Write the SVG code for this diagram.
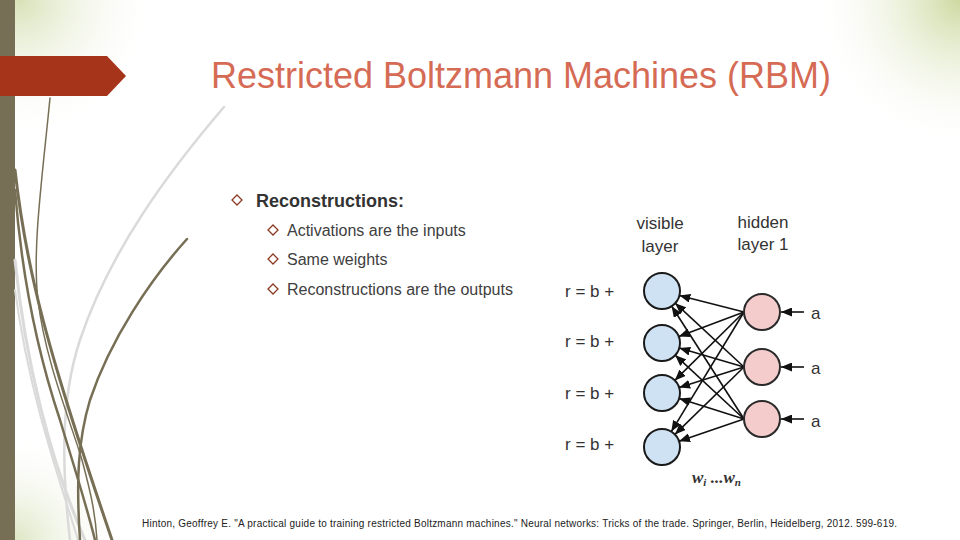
<svg xmlns="http://www.w3.org/2000/svg" width="960" height="540" viewBox="0 0 960 540">
<defs>
<radialGradient id="gTL" cx="20" cy="0" r="140" gradientUnits="userSpaceOnUse">
<stop offset="0" stop-color="#D8E2B8" stop-opacity="1"/>
<stop offset="1" stop-color="#FFFFFF" stop-opacity="0"/>
</radialGradient>
<radialGradient id="gTR" cx="960" cy="0" r="150" gradientUnits="userSpaceOnUse">
<stop offset="0" stop-color="#CCD9A0" stop-opacity="1"/>
<stop offset="1" stop-color="#FFFFFF" stop-opacity="0"/>
</radialGradient>
<radialGradient id="gBL" cx="15" cy="540" r="110" gradientUnits="userSpaceOnUse">
<stop offset="0" stop-color="#DDE6C4" stop-opacity="1"/>
<stop offset="1" stop-color="#FFFFFF" stop-opacity="0"/>
</radialGradient>
<marker id="ah" markerWidth="11" markerHeight="9" refX="11" refY="4.5" orient="auto" markerUnits="userSpaceOnUse">
<path d="M0,0 L11,4.5 L0,9 Z" fill="#111"/>
</marker>
<style>
.olive{fill:none;stroke:#776F55;stroke-linecap:round}
.grey{fill:none;stroke:#DADADA;stroke-linecap:round}
.bul{fill:none;stroke:#8A3A22;stroke-width:1.3}
.t1{font-family:"Liberation Sans",Arial,sans-serif;font-size:18px;font-weight:bold;fill:#333}
.t2{font-family:"Liberation Sans",Arial,sans-serif;font-size:16px;fill:#404040}
.lbl{font-family:"Liberation Sans",Arial,sans-serif;font-size:17px;fill:#333}
.vis{fill:#CFE2F3;stroke:#1A1A1A;stroke-width:2}
.hid{fill:#F4CCCC;stroke:#2A2A2A;stroke-width:2}
.con line{stroke:#111;stroke-width:1.6;marker-end:url(#ah)}
</style>
</defs>
<rect width="960" height="540" fill="#FFFFFF"/>
<rect width="960" height="540" fill="url(#gTL)"/>
<rect width="960" height="540" fill="url(#gTR)"/>
<rect width="960" height="540" fill="url(#gBL)"/>
<rect x="0" y="0" width="15" height="540" fill="#776F55"/>
<g id="decor">
<path class="grey" stroke-width="2.5" d="M224,107 C170,170 110,250 80,340 C60,400 62,470 70,540"/>
<path class="grey" stroke-width="3" d="M15,260 C25,360 50,460 85,540"/>
<path class="grey" stroke-width="2" d="M15,290 C30,400 60,480 78,540"/>
<path class="olive" stroke-width="1.5" d="M50,98 C42,180 32,250 38,300 C45,360 70,420 82,460 C90,490 95,510 97,540"/>
<path class="olive" stroke-width="3" d="M15,170 C25,260 45,330 60,380 C75,430 95,490 112,540"/>
<path class="olive" stroke-width="2.5" d="M15,190 C22,280 40,360 60,420 C72,460 85,500 95,540"/>
<path class="olive" stroke-width="2.5" d="M187,239 C150,280 110,340 90,400 C78,440 76,480 80,540"/>
</g>
<path d="M0,56 L107,56 L126,76 L107,96 L0,96 Z" fill="#A5341A"/>
<text x="521" y="88" text-anchor="middle" font-family="'Liberation Sans',Arial,sans-serif" font-size="36" fill="#D66B55">Restricted Boltzmann Machines (RBM)</text>
<g id="bullets">
<path class="bul" d="M237,195 L242,200 L237,205 L232,200 Z"/>
<text class="t1" x="256" y="207">Reconstructions:</text>
<path class="bul" d="M273,225 L278,230 L273,235 L268,230 Z"/>
<text class="t2" x="287" y="236">Activations are the inputs</text>
<path class="bul" d="M273,254 L278,259 L273,264 L268,259 Z"/>
<text class="t2" x="287" y="265">Same weights</text>
<path class="bul" d="M273,284 L278,289 L273,294 L268,289 Z"/>
<text class="t2" x="287" y="295">Reconstructions are the outputs</text>
</g>
<text class="lbl" x="660" y="229" text-anchor="middle">visible</text>
<text class="lbl" x="660" y="252" text-anchor="middle">layer</text>
<text class="lbl" x="763" y="228" text-anchor="middle">hidden</text>
<text class="lbl" x="763" y="250" text-anchor="middle">layer 1</text>
<g class="con" id="connectors">
<line x1="744" y1="312" x2="679.4" y2="295.5"/>
<line x1="744" y1="312" x2="678.8" y2="336.6"/>
<line x1="744" y1="312" x2="674.8" y2="380.4"/>
<line x1="744" y1="312" x2="671.3" y2="431.6"/>
<line x1="744" y1="367" x2="675.2" y2="303.2"/>
<line x1="744" y1="367" x2="679.3" y2="348.1"/>
<line x1="744" y1="367" x2="679.2" y2="387.6"/>
<line x1="744" y1="367" x2="674.9" y2="434.4"/>
<line x1="744" y1="419" x2="671.7" y2="306.2"/>
<line x1="744" y1="419" x2="675.2" y2="355.2"/>
<line x1="744" y1="419" x2="679.2" y2="398.4"/>
<line x1="744" y1="419" x2="679" y2="441.2"/>
<line x1="804" y1="312" x2="781" y2="312"/>
<line x1="804" y1="367" x2="781" y2="367"/>
<line x1="804" y1="419" x2="781" y2="419"/>
</g>
<g id="v1"><circle class="vis" cx="662" cy="291" r="18"/><text class="lbl" x="565" y="297">r = b +</text></g>
<g id="v2"><circle class="vis" cx="662" cy="343" r="18"/><text class="lbl" x="565" y="347">r = b +</text></g>
<g id="v3"><circle class="vis" cx="662" cy="393" r="18"/><text class="lbl" x="565" y="399">r = b +</text></g>
<g id="v4"><circle class="vis" cx="662" cy="447" r="18"/><text class="lbl" x="565" y="450">r = b +</text></g>
<g id="h1"><circle class="hid" cx="762" cy="312" r="18"/><text class="lbl" x="811" y="319">a</text></g>
<g id="h2"><circle class="hid" cx="762" cy="367" r="18"/><text class="lbl" x="811" y="374">a</text></g>
<g id="h3"><circle class="hid" cx="762" cy="419" r="18"/><text class="lbl" x="811" y="427">a</text></g>
<text x="692" y="483" font-family="'Liberation Serif','Times New Roman',serif" font-size="17" font-style="italic" font-weight="bold" fill="#333">w<tspan font-size="11" dy="3">i</tspan><tspan dy="-3"> ...w</tspan><tspan font-size="11" dy="3">n</tspan></text>
<text x="142" y="527" font-family="'Liberation Sans',Arial,sans-serif" font-size="10" fill="#222" textLength="755" lengthAdjust="spacing">Hinton, Geoffrey E. "A practical guide to training restricted Boltzmann machines." Neural networks: Tricks of the trade. Springer, Berlin, Heidelberg, 2012. 599-619.</text>
</svg>
